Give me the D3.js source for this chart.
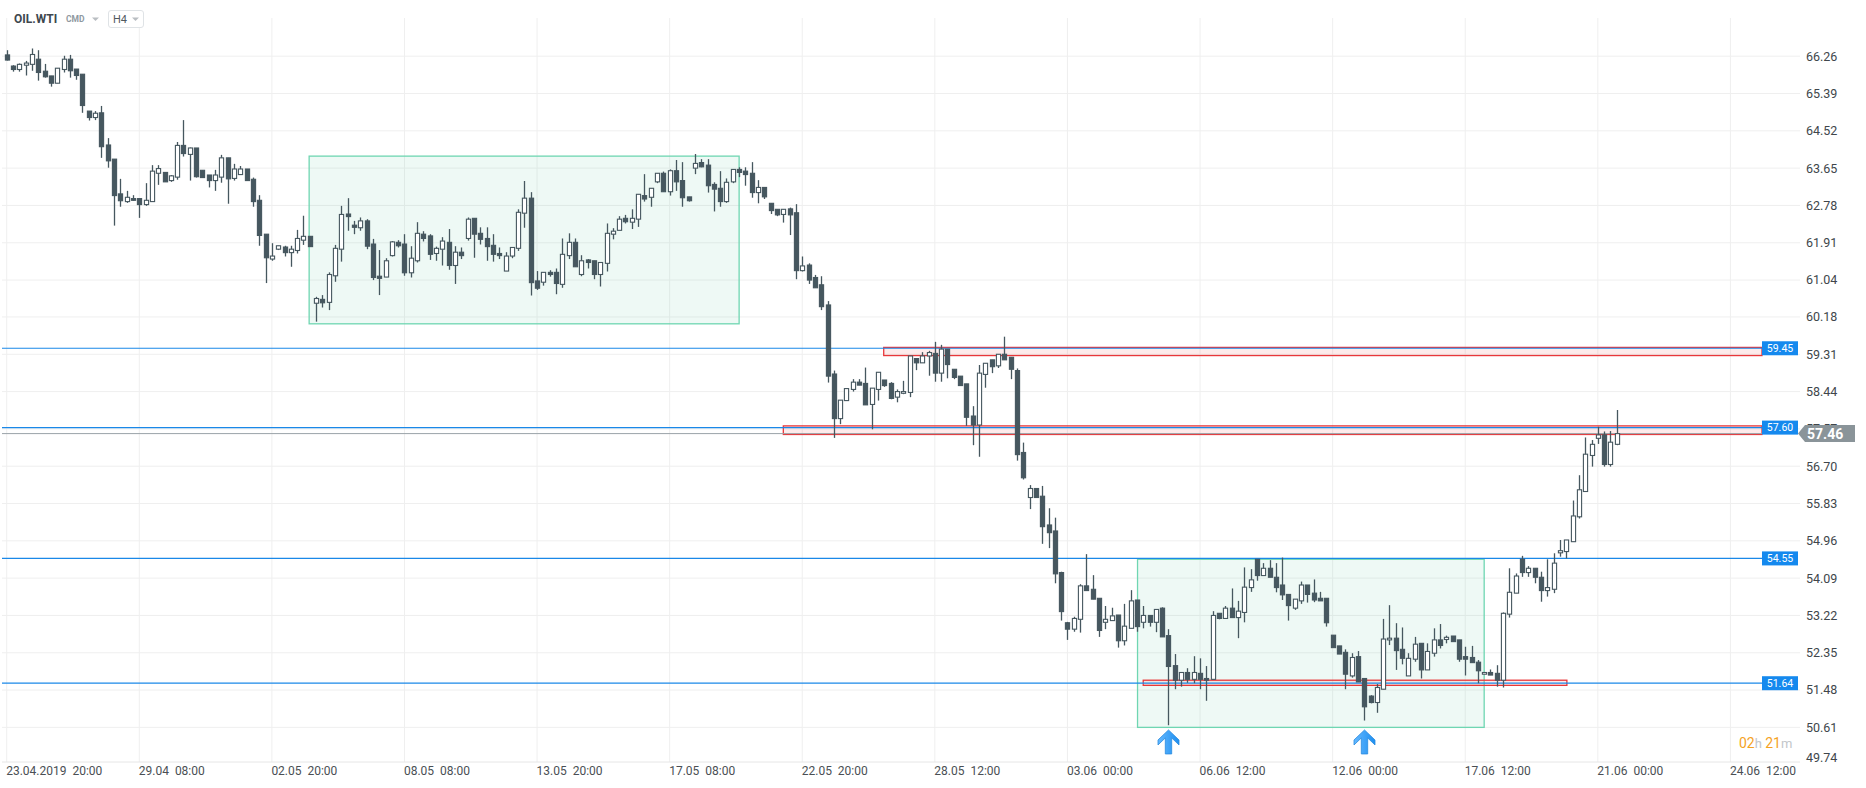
<!DOCTYPE html>
<html><head><meta charset="utf-8">
<script src="https://cdn.jsdelivr.net/npm/d3@7"></script>
<style>
html,body{margin:0;padding:0;background:#fff;overflow:hidden;}
svg{display:block;font-family:Roboto,"Noto Sans",sans-serif;}
</style></head><body>
<svg id="chart" width="1866" height="788"></svg>
<script>
// ---- data (4H candles, index 0 = 23.04.2019 20:00) ----
const opens = [66.29,66.03,65.95,66.05,66.07,66.19,65.91,65.80,65.63,65.95,66.19,65.96,65.84,64.98,64.83,64.94,64.19,63.86,63.05,62.87,62.94,62.94,62.80,62.87,63.53,63.55,63.36,63.44,64.18,63.97,64.12,63.60,63.49,63.36,63.44,63.89,63.41,63.50,63.63,63.39,62.90,62.11,61.53,61.76,61.81,61.68,61.73,61.97,62.06,
60.50,60.59,60.52,61.14,61.76,62.58,62.32,62.26,62.42,61.88,61.13,61.11,61.61,61.92,61.88,61.21,61.49,62.11,62.07,61.66,61.76,61.92,61.38,61.69,62.01,62.48,62.13,62.01,61.85,61.66,61.25,61.60,61.78,62.60,62.95,61.02,60.99,61.22,61.22,60.94,61.61,61.92,61.17,61.51,61.49,61.17,61.43,62.11,62.20,62.48,62.39,62.46,63.01,62.97,63.33,63.53,63.10,63.59,63.36,62.98,63.65,63.78,63.72,63.27,63.18,62.87,63.33,63.62,63.58,
63.53,63.08,63.20,62.83,62.69,62.57,62.70,62.61,61.26,61.39,61.10,60.93,60.46,58.85,57.81,58.23,58.49,58.66,58.63,58.14,58.49,58.71,58.63,58.31,58.40,58.42,59.21,59.11,59.27,59.33,58.87,59.43,58.96,58.80,58.62,57.87,57.66,58.84,59.18,59.04,59.31,59.24,58.93,57.02,55.97,56.18,56.00,55.33,55.19,54.22,53.05,52.90,53.13,53.91,53.83,53.62,53.06,53.10,53.23,52.63,52.92,53.58,53.06,53.22,53.06,53.39,
52.75,52.05,51.71,51.89,51.73,51.87,51.75,51.73,53.27,53.15,53.39,53.17,53.29,53.87,54.53,54.15,54.32,54.11,53.93,53.71,53.39,53.56,53.93,53.74,53.62,53.62,52.76,52.51,52.36,51.81,52.26,51.75,51.34,51.19,51.50,52.65,52.69,52.43,51.81,52.20,52.57,51.95,52.34,52.65,52.66,52.74,52.65,52.26,52.24,52.13,51.85,51.89,51.87,51.71,53.25,53.74,54.53,54.22,54.32,54.11,53.80,53.83,54.68,54.71,54.94,55.52,56.11,56.95,57.35,57.43,56.74,57.21];
const highs = [66.40,66.05,66.09,66.15,66.44,66.40,66.08,65.80,65.98,66.27,66.29,65.96,65.84,64.98,64.98,65.10,64.35,63.86,63.40,63.12,63.02,62.94,63.30,63.72,63.72,63.55,63.49,64.26,64.77,64.13,64.12,63.60,63.49,63.61,63.96,63.89,63.75,63.70,63.63,63.43,63.02,62.11,61.90,61.84,61.84,61.84,62.21,62.54,62.06,
60.65,60.69,61.22,61.86,62.77,62.95,62.42,62.50,62.46,62.00,61.74,61.55,61.95,61.97,62.11,61.83,62.39,62.18,62.11,61.82,62.04,62.23,61.83,61.80,62.50,62.48,62.27,62.27,62.11,61.80,61.69,61.80,62.69,63.35,63.09,61.25,61.22,61.27,61.31,62.01,62.13,62.01,61.62,61.53,61.49,61.45,62.36,62.25,62.53,62.56,62.69,63.04,63.51,63.18,63.53,63.57,63.62,63.84,63.79,62.98,63.98,63.86,63.86,63.32,63.58,63.41,63.62,63.67,63.67,
63.79,63.37,63.20,62.83,62.69,62.69,62.73,62.81,61.59,61.43,61.16,61.13,60.55,58.93,58.24,58.51,58.73,58.73,59.00,58.52,58.89,58.71,58.66,58.49,58.69,59.27,59.21,59.36,59.39,59.60,59.53,59.43,58.96,58.80,58.62,58.10,59.06,59.10,59.18,59.31,59.72,59.24,58.98,57.25,56.26,56.18,56.24,55.72,55.50,54.24,53.07,53.19,53.95,54.65,54.16,53.62,53.44,53.40,53.23,53.49,53.81,53.58,53.44,53.22,53.36,53.41,
52.90,52.32,51.89,51.99,52.27,52.22,52.04,53.32,53.27,53.44,53.85,53.56,54.34,54.30,54.53,54.44,54.51,54.44,54.57,53.71,53.60,54.01,53.93,54.06,53.77,53.62,52.76,52.51,52.43,52.34,52.39,51.75,51.36,51.62,53.14,53.46,53.04,52.94,52.34,52.72,52.57,52.57,52.92,53.02,52.75,52.74,52.65,52.49,52.51,52.18,51.89,51.96,52.06,53.29,54.32,54.20,54.61,54.37,54.32,54.24,54.53,54.67,54.98,54.98,55.90,56.49,57.37,57.31,57.62,57.51,57.52,58.01];
const lows = [66.16,65.90,65.90,65.81,65.92,65.69,65.76,65.55,65.63,65.88,65.76,65.71,64.94,64.76,64.77,63.89,63.66,62.31,62.75,62.84,62.89,62.49,62.77,62.87,63.26,63.33,63.33,63.38,63.92,63.36,63.43,63.43,63.20,63.12,63.31,62.82,63.36,63.49,63.36,62.75,61.84,60.97,61.49,61.74,61.59,61.35,61.66,61.86,61.82,
60.07,60.40,60.34,61.00,61.47,62.19,62.11,62.19,61.76,61.04,60.69,61.11,61.59,61.80,61.14,61.10,61.45,61.94,61.51,61.49,61.38,61.28,60.95,61.53,61.96,61.56,61.87,61.49,61.47,61.53,61.25,61.55,61.72,62.26,60.68,60.81,60.91,61.12,60.71,60.86,61.53,61.35,61.13,61.31,61.06,60.89,61.24,61.99,62.20,62.36,62.23,62.28,62.87,62.75,63.30,63.10,63.01,63.12,62.75,62.87,63.51,63.67,63.08,62.64,62.75,62.84,63.30,63.44,63.24,
62.96,62.83,62.93,62.58,62.53,62.38,62.09,61.06,61.24,60.95,60.86,60.34,58.65,57.36,57.68,58.23,58.44,58.59,58.13,57.56,58.23,58.55,58.26,58.19,58.38,58.31,58.94,59.11,58.81,58.67,58.67,58.75,58.73,58.58,57.64,57.19,56.92,58.53,58.87,58.99,59.18,58.73,56.83,56.39,55.70,55.97,54.89,54.79,53.97,53.10,52.65,52.84,52.82,53.80,53.60,52.72,52.90,53.10,52.47,52.52,52.92,52.84,52.92,52.96,52.83,52.72,
50.66,51.50,51.56,51.65,51.64,51.50,51.23,51.73,53.13,53.15,53.17,52.69,53.06,53.77,54.03,54.15,54.11,53.76,53.58,53.10,53.35,53.49,53.52,53.53,53.56,52.96,52.47,52.32,51.50,51.77,51.67,50.77,51.17,50.95,51.50,52.53,51.95,52.08,51.81,52.14,51.75,51.95,52.26,52.45,52.57,52.61,52.14,51.82,52.12,51.64,51.85,51.83,51.56,51.54,53.17,53.74,54.12,54.12,53.97,53.54,53.66,53.74,54.59,54.55,54.94,55.48,56.11,56.69,57.22,56.69,56.69,57.19];
const closes = [66.17,65.95,66.07,66.10,66.30,65.88,65.78,65.63,65.98,66.19,65.92,65.81,65.11,64.83,64.93,64.15,63.82,63.01,62.89,62.97,62.90,62.80,62.90,63.58,63.64,63.33,63.47,64.18,63.99,64.12,63.45,63.43,63.36,63.49,63.89,63.40,63.63,63.63,63.36,62.87,62.08,61.56,61.60,61.84,61.68,61.76,62.01,62.06,61.82,
60.61,60.51,61.17,61.78,62.57,62.52,62.27,62.42,61.83,61.10,61.08,61.49,61.93,61.84,61.21,61.55,62.13,62.01,61.64,61.78,61.95,61.38,61.69,61.61,62.46,62.11,61.99,61.82,61.64,61.61,61.60,61.80,62.62,62.95,60.98,60.85,61.22,61.17,60.96,61.64,61.92,61.35,61.49,61.45,61.17,61.45,62.13,62.18,62.46,62.40,62.48,63.04,62.93,63.18,63.53,63.10,63.59,63.33,62.96,62.89,63.76,63.68,63.24,63.16,62.87,63.32,63.62,63.55,63.50,
63.08,63.20,62.98,62.66,62.56,62.69,62.56,61.26,61.37,61.04,60.86,60.42,58.80,57.81,58.24,58.51,58.66,58.59,58.13,58.52,58.89,58.58,58.28,58.44,58.44,59.27,59.11,59.27,59.35,58.87,59.43,59.07,58.77,58.58,57.84,57.66,58.87,59.10,59.02,59.31,59.18,58.96,56.97,56.43,56.18,55.97,55.29,55.15,54.19,53.31,52.90,53.15,53.91,53.80,53.60,52.87,53.13,53.21,52.63,52.97,53.56,52.96,53.22,53.06,53.36,52.72,
52.03,51.71,51.89,51.73,51.89,51.73,51.71,53.22,53.15,53.39,53.17,53.32,53.88,54.05,54.15,54.32,54.11,53.87,53.70,53.45,53.60,53.93,53.71,53.58,53.56,53.05,52.47,52.32,51.85,52.24,51.67,51.09,51.19,51.54,52.67,52.69,52.40,52.22,52.22,52.55,51.95,52.38,52.65,52.52,52.71,52.61,52.20,52.20,52.12,51.93,51.89,51.83,51.71,53.27,53.76,54.14,54.22,54.32,54.11,53.80,53.87,54.44,54.73,54.98,55.54,56.15,56.98,57.21,57.43,56.74,57.26,57.46];

// time axis: one label every 21 bars
const xTickLabels = ["23.04.2019  20:00","29.04  08:00","02.05  20:00","08.05  08:00","13.05  20:00","17.05  08:00","22.05  20:00","28.05  12:00","03.06  00:00","06.06  12:00","12.06  00:00","17.06  12:00","21.06  00:00","24.06  12:00"];
const barsPerLabel = 21;
// price axis
const yTickLabels = ["66.26","65.39","64.52","63.65","62.78","61.91","61.04","60.18","59.31","58.44","57.57","56.70","55.83","54.96","54.09","53.22","52.35","51.48","50.61","49.74"];
// horizontal levels (blue)
const levelPrices = [59.45, 57.60, 54.55, 51.64];
const currentPrice = 57.46;
// red zones: start bar, end bar (null = to the right edge), top, bottom price
const zoneStart = [138.9, 123.0, 180.0];
const zoneEnd = [null, null, 247.1];
const zoneTop = [59.47, 57.64, 51.71];
const zoneBottom = [59.28, 57.44, 51.59];
// green ranges
const rangeStart = [47.9, 179.1];
const rangeEnd = [116.0, 234.0];
const rangeTop = [63.93, 54.53];
const rangeBottom = [60.02, 50.61];
// arrows (bar index, tip price)
const arrowBars = [184, 215];
const arrowTips = [50.55, 50.55];

// ---- layout ----
const plotLeft = 2, plotRight = 1800, plotTop = 18, plotBottom = 762, linesRight = 1762;
const candleColor = "#46575f";

const svg = d3.select("#chart");
const nBars = barsPerLabel * (xTickLabels.length - 1);
const x = d3.scaleLinear().domain([0, nBars]).range([6.7, 6.7 + nBars * 6.314]);
const y = d3.scaleLinear().domain([49.74, 66.26]).range([764.7, 56.2]);

// gridlines
svg.append("g").selectAll("line").data(yTickLabels.map(Number).filter(v => y(v) < plotBottom - 1)).join("line")
  .attr("x1", plotLeft).attr("x2", plotRight).attr("y1", d => y(d)).attr("y2", d => y(d))
  .attr("stroke", "#efefef").attr("stroke-width", 1);
svg.append("g").selectAll("line").data(xTickLabels.map((d, k) => k * barsPerLabel)).join("line")
  .attr("x1", d => x(d)).attr("x2", d => x(d)).attr("y1", plotTop).attr("y2", plotBottom)
  .attr("stroke", "#efefef").attr("stroke-width", 1);
svg.append("line").attr("x1", plotLeft).attr("x2", plotRight).attr("y1", plotBottom).attr("y2", plotBottom)
  .attr("stroke", "#e6e6e6");

// green ranges
svg.append("g").selectAll("rect").data(rangeStart.map((s, k) => k)).join("rect")
  .attr("x", k => x(rangeStart[k])).attr("width", k => x(rangeEnd[k]) - x(rangeStart[k]))
  .attr("y", k => y(rangeTop[k])).attr("height", k => y(rangeBottom[k]) - y(rangeTop[k]))
  .attr("fill", "rgba(102,204,163,0.11)").attr("stroke", "#6fd6b2").attr("stroke-width", 1.3);

// red zones
svg.append("g").selectAll("rect").data(zoneStart.map((s, k) => k)).join("rect")
  .attr("x", k => x(zoneStart[k]))
  .attr("width", k => (zoneEnd[k] == null ? linesRight : x(zoneEnd[k])) - x(zoneStart[k]))
  .attr("y", k => y(zoneTop[k])).attr("height", k => y(zoneBottom[k]) - y(zoneTop[k]))
  .attr("fill", "rgba(240,90,90,0.12)").attr("stroke", "#e8373a").attr("stroke-width", 1.3);

// level lines
svg.append("g").selectAll("line").data(levelPrices).join("line")
  .attr("x1", plotLeft).attr("x2", linesRight).attr("y1", d => y(d)).attr("y2", d => y(d))
  .attr("stroke", "#1a88e8").attr("stroke-width", 1.2);
// current price line
svg.append("line").attr("x1", plotLeft).attr("x2", linesRight).attr("y1", y(currentPrice)).attr("y2", y(currentPrice))
  .attr("stroke", "#9aa3a8").attr("stroke-width", 1);

// candles
const bars = d3.range(opens.length);
const gC = svg.append("g");
gC.selectAll("line").data(bars).join("line")
  .attr("x1", i => Math.round(x(i)) + 0.5).attr("x2", i => Math.round(x(i)) + 0.5)
  .attr("y1", i => y(highs[i])).attr("y2", i => y(lows[i]))
  .attr("stroke", candleColor).attr("stroke-width", 1.3);
gC.selectAll("rect").data(bars).join("rect")
  .attr("x", i => Math.round(x(i)) + 0.5 - 2.1).attr("width", 4.2)
  .attr("y", i => y(Math.max(opens[i], closes[i])))
  .attr("height", i => Math.max(1, Math.abs(y(opens[i]) - y(closes[i]))))
  .attr("fill", i => closes[i] >= opens[i] ? "#ffffff" : candleColor)
  .attr("stroke", candleColor).attr("stroke-width", 1.1);

// arrows
const arrowPath = "M0,0 L10.5,10 L10.5,15 L3.2,8 L3.2,24 L-3.2,24 L-3.2,8 L-10.5,15 L-10.5,10 Z";
const defs = svg.append("defs");
const grad = defs.append("linearGradient").attr("id", "ag").attr("x1", 0).attr("x2", 1).attr("y1", 0).attr("y2", 0);
grad.append("stop").attr("offset", "0%").attr("stop-color", "#64b8ff");
grad.append("stop").attr("offset", "100%").attr("stop-color", "#1e8ff0");
svg.append("g").selectAll("path").data(arrowBars.map((b, k) => k)).join("path")
  .attr("d", arrowPath)
  .attr("transform", k => `translate(${Math.round(x(arrowBars[k])) + 0.5},${y(arrowTips[k])})`)
  .attr("fill", "url(#ag)").attr("stroke", "#2a8be0").attr("stroke-width", 0.8);

// y-axis labels
svg.append("g").selectAll("text").data(yTickLabels).join("text")
  .attr("x", 1806).attr("y", d => Math.min(y(+d), 758))
  .attr("dy", "0.35em").attr("font-size", 12.5).attr("fill", "#40464b").text(d => d);

// level tags
const gT = svg.append("g");
levelPrices.forEach(p => {
  gT.append("rect").attr("x", linesRight).attr("y", y(p) - 7).attr("width", 36).attr("height", 14).attr("fill", "#1589ee");
  gT.append("text").attr("x", linesRight + 18).attr("y", y(p)).attr("dy", "0.35em").attr("text-anchor", "middle")
    .attr("font-size", 10.5).attr("fill", "#ffffff").text(p.toFixed(2));
});
// current price tag
const cy = y(currentPrice);
svg.append("path").attr("d", `M1798,${cy} L1805,${cy - 8.5} L1855,${cy - 8.5} L1855,${cy + 8.5} L1805,${cy + 8.5} Z`).attr("fill", "#8a9499");
svg.append("text").attr("x", 1807).attr("y", cy).attr("dy", "0.36em").attr("font-size", 14).attr("font-weight", "bold")
  .attr("fill", "#ffffff").text(currentPrice.toFixed(2));

// x-axis labels
svg.append("g").selectAll("text").data(xTickLabels).join("text")
  .attr("x", (d, k) => x(k * barsPerLabel) - 0.5).attr("y", 771).attr("dy", "0.35em")
  .attr("font-size", 12).attr("fill", "#4a4f54").style("white-space", "pre").text(d => d);

// timer
const timer = svg.append("text").attr("x", 1739).attr("y", 743).attr("dy", "0.35em").attr("font-size", 14);
timer.append("tspan").attr("fill", "#f5a31f").text("02");
timer.append("tspan").attr("fill", "#c2c6ca").attr("font-size", 13).text("h ");
timer.append("tspan").attr("fill", "#f5a31f").text("21");
timer.append("tspan").attr("fill", "#c2c6ca").attr("font-size", 13).text("m");

// header
svg.append("text").attr("x", 14).attr("y", 19).attr("dy", "0.35em").attr("font-size", 12).attr("font-weight", "bold")
  .attr("fill", "#3e474e").text("OIL.WTI");
svg.append("text").attr("x", 66).attr("y", 19).attr("dy", "0.35em").attr("font-size", 8.5).attr("font-weight", "bold")
  .attr("fill", "#8f999f").text("CMD");
svg.append("path").attr("d", "M92,17.5 L99,17.5 L95.5,21 Z").attr("fill", "#b9bec2");
svg.append("rect").attr("x", 108.5).attr("y", 10.5).attr("width", 35).attr("height", 17).attr("rx", 2.5)
  .attr("fill", "#ffffff").attr("stroke", "#dfe3e6");
svg.append("text").attr("x", 113).attr("y", 19.5).attr("dy", "0.35em").attr("font-size", 11).attr("fill", "#50585e").text("H4");
svg.append("path").attr("d", "M132,17.5 L139,17.5 L135.5,21 Z").attr("fill", "#b9bec2");
</script>
</body></html>
